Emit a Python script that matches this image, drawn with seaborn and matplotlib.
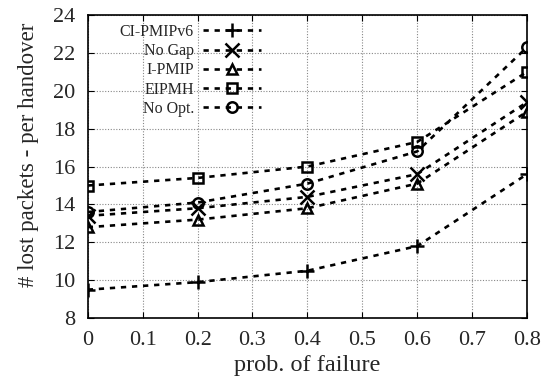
import pandas as pd
import matplotlib
matplotlib.use("Agg")
import matplotlib.pyplot as plt
import seaborn as sns

prob = [0, 0.2, 0.4, 0.6, 0.8]
ci_pmipv6 = [9.5, 9.9, 10.5, 11.8, 15.6]
no_gap = [13.4, 13.8, 14.4, 15.6, 19.4]
i_pmip = [12.8, 13.2, 13.8, 15.1, 18.9]
eipmh = [15.0, 15.4, 16.0, 17.3, 21.0]
no_opt = [13.6, 14.1, 15.1, 16.8, 22.3]

series = [
    ("CI-PMIPv6", ci_pmipv6, "+"),
    ("No Gap", no_gap, "x"),
    ("I-PMIP", i_pmip, "^"),
    ("EIPMH", eipmh, "s"),
    ("No Opt.", no_opt, "o"),
]

sns.set_style("ticks")
plt.rcParams['font.family'] = ['Liberation Serif', 'DejaVu Serif']

fig = plt.figure(figsize=(5.45, 3.76), dpi=100)
ax = fig.add_axes([0.161, 0.154, 0.806, 0.806])

for name, vals, mk in series:
    df = pd.DataFrame({"x": prob, "y": vals})
    hollow = mk in ("^", "s", "o")
    sns.lineplot(data=df, x="x", y="y", ax=ax, color="black", label=name,
                 linestyle=(0, (2, 2.2)), linewidth=1.9, marker=mk,
                 markersize=10 if mk in ("+", "x") else 7.5,
                 markeredgewidth=1.8,
                 markerfacecolor="none" if hollow else "black",
                 markeredgecolor="black")

ax.set_xlim(0, 0.8)
ax.set_ylim(8, 24)
ax.set_xticks([0, 0.1, 0.2, 0.3, 0.4, 0.5, 0.6, 0.7, 0.8])
ax.set_xticklabels(["0", "0.1", "0.2", "0.3", "0.4", "0.5", "0.6", "0.7", "0.8"])
ax.set_yticks(range(8, 25, 2))
ax.grid(True, color="#888888", linestyle=(0, (1, 1.5)), linewidth=0.8)
ax.tick_params(direction="in", top=True, right=True, labelsize=16, length=4,
               color="black", pad=9)
for s in ax.spines.values():
    s.set_color("black")
    s.set_linewidth(1.2)

ax.set_xlabel("prob. of failure", fontsize=17.5, labelpad=4)
ax.set_ylabel("# lost packets - per handover", fontsize=16.5)
ax.yaxis.set_label_coords(-0.11, 0.54)

leg = ax.legend(loc="upper left", bbox_to_anchor=(0.04, 1.018), frameon=False,
                markerfirst=False, fontsize=11.5, handlelength=3.6,
                labelspacing=0.2, handletextpad=0.6)
for t in leg.get_texts():
    t.set_ha("right")
leg._legend_box.align = "right"

fig.savefig("out.png", dpi=100)
